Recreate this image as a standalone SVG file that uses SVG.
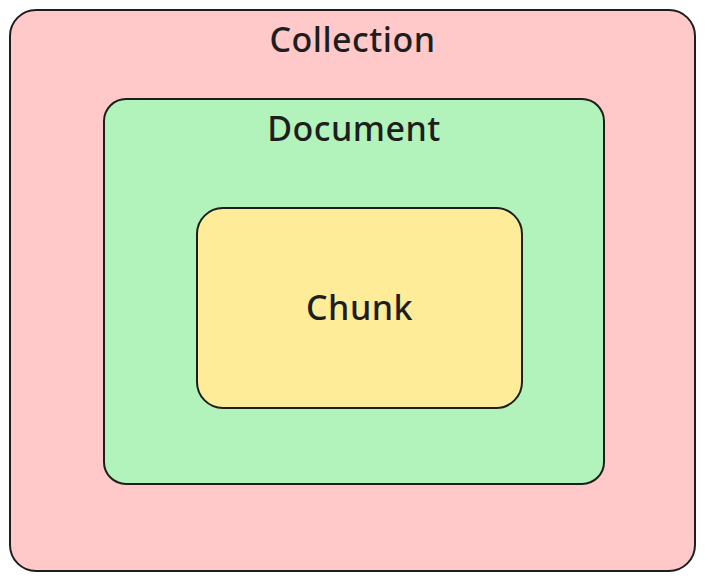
<svg xmlns="http://www.w3.org/2000/svg" width="705" height="581" viewBox="0 0 705 581">
<style>
.box{stroke:#1e1e1e;stroke-width:2}
.lbl{font-family:"Noto Sans","DejaVu Sans",sans-serif;font-size:34px;font-weight:500;letter-spacing:0.5px;fill:#1e1e1e;text-anchor:middle}
</style>
<rect width="705" height="581" fill="#ffffff"/>
<g id="collection">
<rect class="box" x="10" y="10" width="685" height="561" rx="26" fill="#ffc9c9"/>
<text class="lbl" x="352.5" y="52">Collection</text>
</g>
<g id="document">
<rect class="box" x="104" y="99" width="500" height="385" rx="22" fill="#b2f2bb"/>
<text class="lbl" x="354" y="141">Document</text>
</g>
<g id="chunk">
<rect class="box" x="197" y="208" width="325" height="200" rx="26" fill="#ffec99"/>
<text class="lbl" x="359.5" y="320">Chunk</text>
</g>
<g id="connectors"/>
</svg>
